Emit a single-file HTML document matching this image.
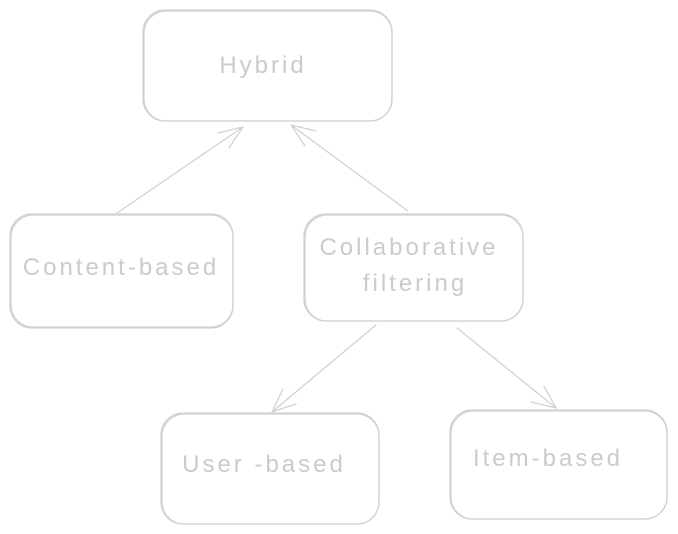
<!DOCTYPE html>
<html><head><meta charset="utf-8"><style>
html,body{margin:0;padding:0;background:#fff;}
svg{display:block;}
text{font-family:"Liberation Sans",sans-serif;fill:#cbcbcb;font-size:24px;letter-spacing:3px;text-anchor:middle;}
</style></head><body>
<svg width="678" height="534" viewBox="0 0 678 534">
<g fill="none" stroke="#d2d2d2" stroke-width="1.3" stroke-linecap="round">
<rect x="143" y="10" width="249" height="111" rx="22"/>
<rect x="144" y="11" width="248" height="110" rx="22"/>
<rect x="10" y="214" width="223" height="114" rx="22"/>
<rect x="11" y="215" width="222" height="112" rx="22"/>
<rect x="304" y="214" width="219" height="107" rx="22"/>
<rect x="305" y="215" width="218" height="106" rx="22"/>
<rect x="161" y="413" width="218" height="111" rx="22"/>
<rect x="162" y="414" width="217" height="110" rx="22"/>
<rect x="450" y="410" width="217" height="109" rx="22"/>
<rect x="451" y="411" width="216" height="108" rx="22"/>
<path d="M117 213 L243 127 M243 127 L218 133 M243 127 L229 148"/>
<path d="M408 211 L291 125 M291 125 L305 146 M291 125 L316 131"/>
<path d="M376 325 L272 412 M272 412 L296 404 M272 412 L283 389"/>
<path d="M457 328 L556 408 M556 408 L544 386 M556 408 L531 402"/>
</g>
<text x="263" y="73">Hybrid</text>
<text x="121" y="275">Content-based</text>
<text x="409" y="255">Collaborative</text>
<text x="415" y="291">filtering</text>
<text x="264" y="472">User -based</text>
<text x="548" y="466">Item-based</text>
</svg>
</body></html>
